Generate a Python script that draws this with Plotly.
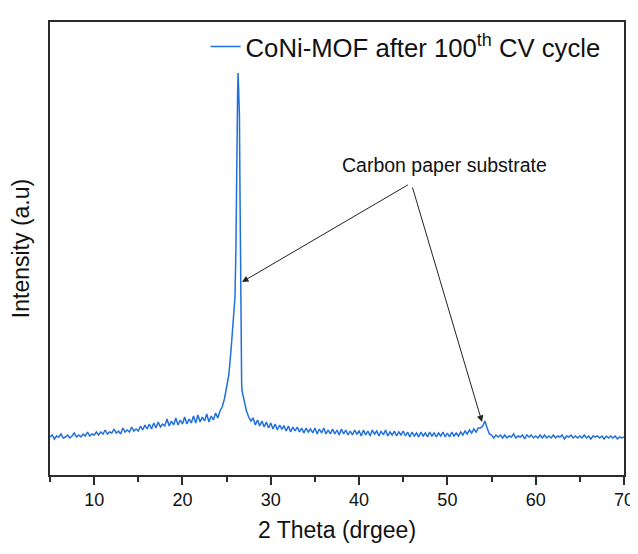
import plotly.graph_objects as go

# ---- data (2θ in degrees, intensity in arbitrary units) ----
two_theta_low = [
    5.00, 5.25, 5.50, 5.75, 6.00, 6.25, 6.50, 6.75, 7.00, 7.25, 7.50, 7.75, 8.00, 8.25, 8.50, 8.75, 9.00, 9.25, 9.50, 9.75,
    10.00, 10.25, 10.50, 10.75, 11.00, 11.25, 11.50, 11.75, 12.00, 12.25, 12.50, 12.75, 13.00, 13.25, 13.50, 13.75, 14.00, 14.25, 14.50, 14.75,
    15.00, 15.25, 15.50, 15.75, 16.00, 16.25, 16.50, 16.75, 17.00, 17.25, 17.50, 17.75, 18.00, 18.25, 18.50, 18.75, 19.00, 19.25, 19.50, 19.75,
    20.00, 20.25, 20.50, 20.75, 21.00, 21.25, 21.50, 21.75, 22.00, 22.25, 22.50, 22.75, 23.00, 23.25, 23.50, 23.75,
    24.00, 24.25, 24.50, 24.75, 25.00, 25.25, 25.50, 25.75,
]
intensity_low = [
    38, 40, 36, 39, 38, 41, 37, 38, 40, 37, 39, 42, 38, 40, 38, 41, 39, 43, 39, 41,
    40, 43, 40, 43, 41, 45, 41, 43, 42, 46, 42, 44, 41, 47, 43, 45, 43, 48, 44, 46,
    44, 49, 45, 50, 46, 51, 46, 52, 47, 53, 48, 51, 49, 56, 49, 54, 50, 57, 50, 55,
    51, 58, 51, 56, 52, 59, 52, 60, 53, 58, 54, 61, 53, 59, 55, 62,
    57, 64, 68, 76, 88, 100, 125, 150,
]

two_theta_peak = [
    25.85, 25.95, 26.05, 26.10, 26.15, 26.20, 26.25, 26.30, 26.35, 26.40,
    26.45, 26.50, 26.55, 26.60, 26.65, 26.70, 26.75,
]
intensity_peak = [
    160, 178, 225, 290, 330, 370, 385, 402, 380, 395,
    360, 300, 220, 140, 110, 92, 84,
]

two_theta_high = [
    27.00, 27.25, 27.50, 27.75, 28.00, 28.25, 28.50, 28.75, 29.00, 29.25, 29.50, 29.75,
    30.00, 30.25, 30.50, 30.75, 31.00, 31.25, 31.50, 31.75, 32.00, 32.25, 32.50, 32.75, 33.00, 33.25, 33.50, 33.75, 34.00, 34.25, 34.50, 34.75,
    35.00, 35.25, 35.50, 35.75, 36.00, 36.25, 36.50, 36.75, 37.00, 37.25, 37.50, 37.75, 38.00, 38.25, 38.50, 38.75, 39.00, 39.25, 39.50, 39.75,
    40.00, 40.25, 40.50, 40.75, 41.00, 41.25, 41.50, 41.75, 42.00, 42.25, 42.50, 42.75, 43.00, 43.25, 43.50, 43.75, 44.00, 44.25, 44.50, 44.75,
    45.00, 45.25, 45.50, 45.75, 46.00, 46.25, 46.50, 46.75, 47.00, 47.25, 47.50, 47.75, 48.00, 48.25, 48.50, 48.75, 49.00, 49.25, 49.50, 49.75,
    50.00, 50.25, 50.50, 50.75, 51.00, 51.25, 51.50, 51.75, 52.00, 52.25, 52.50, 52.75, 53.00, 53.25, 53.50, 53.75, 54.00, 54.25, 54.50, 54.75,
    55.00, 55.25, 55.50, 55.75, 56.00, 56.25, 56.50, 56.75, 57.00, 57.25, 57.50, 57.75, 58.00, 58.25, 58.50, 58.75, 59.00, 59.25, 59.50, 59.75,
    60.00, 60.25, 60.50, 60.75, 61.00, 61.25, 61.50, 61.75, 62.00, 62.25, 62.50, 62.75, 63.00, 63.25, 63.50, 63.75, 64.00, 64.25, 64.50, 64.75,
    65.00, 65.25, 65.50, 65.75, 66.00, 66.25, 66.50, 66.75, 67.00, 67.25, 67.50, 67.75, 68.00, 68.25, 68.50, 68.75, 69.00, 69.25, 69.50, 69.75,
    70.00,
]
intensity_high = [
    72, 64, 58, 54, 57, 50, 55, 49, 54, 48, 53, 47,
    52, 46, 51, 45, 50, 46, 49, 44, 49, 43, 48, 44, 48, 43, 47, 42, 47, 43, 46, 42,
    47, 41, 46, 42, 47, 41, 45, 41, 46, 41, 45, 40, 46, 41, 45, 40, 44, 40, 45, 41,
    44, 39, 45, 40, 44, 39, 45, 41, 44, 39, 44, 40, 45, 39, 43, 40, 44, 39, 43, 40,
    44, 39, 43, 38, 43, 39, 42, 38, 43, 39, 42, 38, 43, 39, 42, 38, 42, 39, 43, 38,
    42, 38, 43, 39, 42, 39, 43, 40, 44, 41, 45, 42, 46, 43, 47, 47, 49, 54, 47, 41,
    40, 37, 40, 38, 40, 37, 40, 37, 39, 38, 41, 37, 39, 38, 40, 36, 40, 38, 40, 37,
    39, 37, 40, 37, 40, 37, 39, 37, 40, 37, 39, 38, 40, 36, 39, 38, 40, 37, 39, 37,
    39, 37, 40, 37, 39, 36, 39, 38, 39, 37, 39, 36, 39, 37, 39, 37, 39, 36, 38, 37,
    38,
]

x_ticks = [10, 20, 30, 40, 50, 60, 70]
x_minor_ticks = [5, 15, 25, 35, 45, 55, 65]
series_name = "CoNi-MOF after 100<sup>th</sup> CV cycle"
annotation_text = "Carbon paper substrate"
x_title = "2 Theta (drgee)"
y_title = "Intensity (a.u)"

two_theta = two_theta_low + two_theta_peak + two_theta_high
intensity = intensity_low + intensity_peak + intensity_high

FONT = "Arial, Liberation Sans, sans-serif"
AXIS_COLOR = "#2b2b2b"

fig = go.Figure()
fig.add_trace(go.Scatter(
    x=two_theta, y=intensity, mode="lines", name=series_name,
    line=dict(color="#1f6fdc", width=1.5),
))

# arrows from the label to the two carbon-paper peaks
fig.add_annotation(x=26.74, y=193, ax=45.7, ay=291, xref="x", yref="y", axref="x", ayref="y",
                   text="", showarrow=True, arrowhead=2, arrowsize=1.3, arrowwidth=1, arrowcolor="#222")
fig.add_annotation(x=53.92, y=53, ax=46.0, ay=289, xref="x", yref="y", axref="x", ayref="y",
                   text="", showarrow=True, arrowhead=2, arrowsize=1.3, arrowwidth=1, arrowcolor="#222")
fig.add_annotation(x=49.7, y=310, xref="x", yref="y", text=annotation_text, showarrow=False,
                   font=dict(family=FONT, size=19.5, color="#111"))

# the page body adds an 8px offset, so the figure is sized to the visible area
fig.update_layout(
    width=630, height=546,
    margin=dict(l=42, r=14, t=14, b=79, autoexpand=False),
    paper_bgcolor="white", plot_bgcolor="white",
    font=dict(family=FONT, color="#111"),
    showlegend=True,
    legend=dict(x=0.271, y=0.945, xanchor="left", yanchor="middle",
                bgcolor="rgba(0,0,0,0)", font=dict(family=FONT, size=25.7, color="#111"),
                itemwidth=30, borderwidth=0, tracegroupgap=0),
    xaxis=dict(
        range=[5, 70], tickvals=x_ticks, ticks="outside", ticklen=8, tickwidth=1.5,
        tickcolor=AXIS_COLOR, showline=True, linecolor=AXIS_COLOR, linewidth=1.5, mirror=True,
        showgrid=False, zeroline=False, automargin=False,
        tickfont=dict(family=FONT, size=18, color="#111"),
        minor=dict(tickvals=x_minor_ticks, ticks="outside", ticklen=5,
                   tickwidth=1.5, tickcolor=AXIS_COLOR, showgrid=False),
        title=dict(text=x_title, font=dict(family=FONT, size=23, color="#111"), standoff=13),
    ),
    yaxis=dict(
        range=[0, 453], showticklabels=False, ticks="", showline=True, linecolor=AXIS_COLOR,
        linewidth=1.5, mirror=True, showgrid=False, zeroline=False, automargin=False,
        title=dict(text=y_title, font=dict(family=FONT, size=23, color="#111"), standoff=12),
    ),
)

fig.write_html("out.html")
